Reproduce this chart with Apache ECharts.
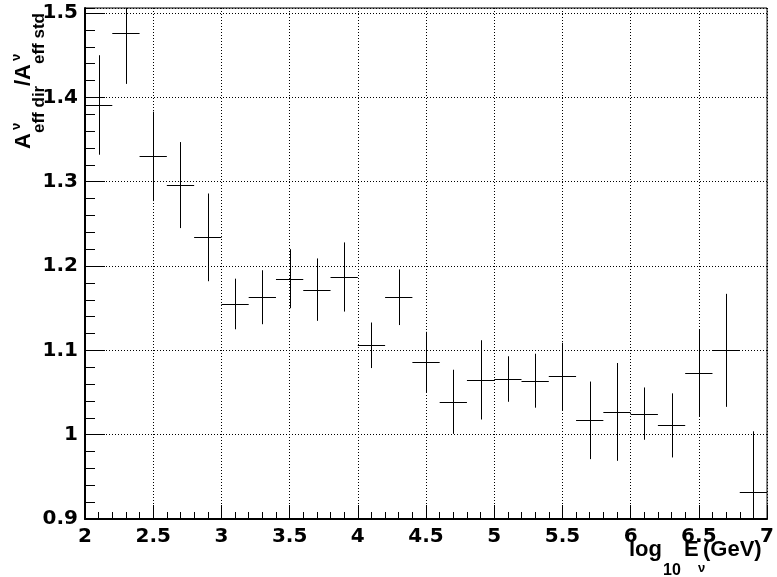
<!DOCTYPE html>
<html><head><meta charset="utf-8">
<script src="https://cdn.jsdelivr.net/npm/echarts@6/dist/echarts.min.js"></script>
<style>html,body{margin:0;padding:0;background:#fff}#c{width:777px;height:577px}</style>
</head><body><div id="c"></div>
<script>
// ---- data ----
const binCenters  = [2.1, 2.3, 2.5, 2.7, 2.9, 3.1, 3.3, 3.5, 3.7, 3.9, 4.1, 4.3, 4.5, 4.7, 4.9, 5.1, 5.3, 5.5, 5.7, 5.9, 6.1, 6.3, 6.5, 6.7, 6.9];
const ratioValues = [1.391, 1.476, 1.330, 1.296, 1.234, 1.155, 1.163, 1.185, 1.172, 1.187, 1.106, 1.163, 1.086, 1.039, 1.065, 1.066, 1.064, 1.069, 1.017, 1.027, 1.025, 1.011, 1.073, 1.100, 0.932];
const ratioErrors = [0.059, 0.060, 0.053, 0.051, 0.052, 0.030, 0.032, 0.035, 0.037, 0.041, 0.027, 0.033, 0.036, 0.038, 0.047, 0.027, 0.032, 0.040, 0.046, 0.058, 0.031, 0.038, 0.052, 0.067, 0.072];
const binHalfWidth = 0.1;
const xMin = 2, xMax = 7, xStep = 0.5;
const yMin = 0.9, yMax = 1.506, yStep = 0.1, yMinorStep = 0.02;

const TICK_FONT = '"DejaVu Sans", Verdana, sans-serif';
const TITLE_FONT = '"Liberation Sans", Arial, Helvetica, sans-serif';
const chart = echarts.init(document.getElementById('c'), null, {renderer: 'canvas'});

const seriesData = binCenters.map((x, i) => [x, ratioValues[i], ratioErrors[i]]);
const crisp = v => Math.round(v) + 0.5;

function txt(x, y, text, size) {
  return {type: 'text', x: x, y: y, style: {text: text, fontSize: size, fontWeight: 'bold', fontFamily: TITLE_FONT, fill: '#000', verticalAlign: 'middle', align: 'left'}};
}

const option = {
  backgroundColor: '#fff',
  animation: false,
  grid: {left: 85, right: 2, top: 8, bottom: 58, show: true, borderColor: '#000', borderWidth: 1, backgroundColor: 'transparent'},
  xAxis: {
    type: 'value', min: xMin, max: xMax, interval: xStep,
    axisLine: {show: true, onZero: false, lineStyle: {color: '#000', width: 2}},
    axisTick: {show: true, inside: true, length: 14, lineStyle: {color: '#000', width: 1}},
    minorTick: {show: true, splitNumber: 5, length: 7, lineStyle: {color: '#000', width: 1}},
    splitLine: {show: true, lineStyle: {color: '#000', width: 1, type: [1, 2]}},
    axisLabel: {color: '#000', fontFamily: TICK_FONT, fontWeight: 'bold', fontSize: 20, margin: 8}
  },
  yAxis: [{
    type: 'value', min: yMin, max: yMax, interval: yStep, position: 'left',
    axisLine: {show: true, onZero: false, lineStyle: {color: '#000', width: 2}},
    axisTick: {show: true, inside: true, length: 20, lineStyle: {color: '#000', width: 1}},
    splitLine: {show: true, lineStyle: {color: '#000', width: 1, type: [1, 2]}},
    axisLabel: {color: '#000', fontFamily: TICK_FONT, fontWeight: 'bold', fontSize: 20, margin: 7, showMaxLabel: false}
  }, {
    type: 'value', min: yMin, max: yMax, interval: yMinorStep, position: 'left', offset: 0,
    axisLine: {show: false},
    axisTick: {show: true, inside: true, length: 10, lineStyle: {color: '#000', width: 1}},
    splitLine: {show: false},
    axisLabel: {show: false}
  }],
  series: [{
    type: 'custom',
    xAxisIndex: 0, yAxisIndex: 0,
    data: seriesData,
    clip: true,
    renderItem: function (params, api) {
      const x = api.value(0), y = api.value(1), e = api.value(2);
      const lo = Math.max(y - e, yMin), hi = Math.min(y + e, yMax);
      const pL = api.coord([x - binHalfWidth, y]);
      const pR = api.coord([x + binHalfWidth, y]);
      const pB = api.coord([x, lo]);
      const pT = api.coord([x, hi]);
      const st = {stroke: '#000', lineWidth: 1};
      return {type: 'group', children: [
        {type: 'line', shape: {x1: pL[0], y1: crisp(pL[1]), x2: pR[0], y2: crisp(pR[1])}, style: st},
        {type: 'line', shape: {x1: crisp(pB[0]), y1: pB[1], x2: crisp(pT[0]), y2: pT[1]}, style: st}
      ]};
    }
  }],
  graphic: [
    // x-axis title: log_10 E_nu (GeV)
    txt(629, 550, 'log', 22),
    txt(663, 571, '10', 16),
    txt(684, 550, 'E', 22),
    txt(698, 568, 'ν', 13),
    txt(703, 550, '(GeV)', 22),
    // y-axis title: A^nu_{eff dir} / A^nu_{eff std}
    {type: 'group', x: 0, y: 149, rotation: Math.PI / 2, children: [
      txt(0, 23.5, 'A', 22),
      txt(19, 16.5, 'ν', 13),
      txt(16, 39, 'eff dir', 17),
      txt(63, 23.5, '/A', 22),
      txt(88, 16.5, 'ν', 13),
      txt(85, 39, 'eff std', 17)
    ]}
  ]
};
chart.setOption(option);
</script>
</body></html>
